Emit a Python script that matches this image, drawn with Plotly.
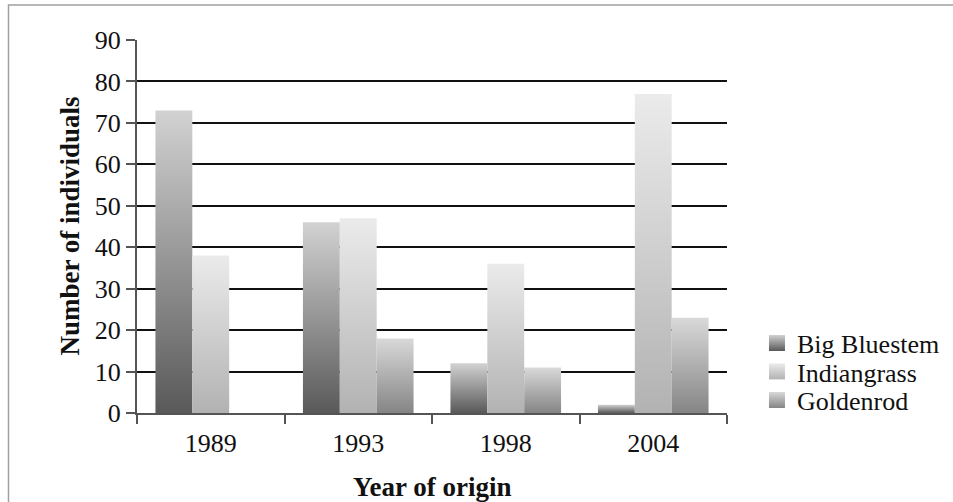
import plotly.graph_objects as go

# Survey counts by year of origin
years = ["1989", "1993", "1998", "2004"]
series_names = ["Big Bluestem", "Indiangrass", "Goldenrod"]
big_bluestem = [73, 46, 12, 2]
indiangrass = [38, 47, 36, 77]
goldenrod = [0, 18, 11, 23]

values = [big_bluestem, indiangrass, goldenrod]
# bottom-to-top grey gradients for each series
gradients = [
    [[0, "#595959"], [1, "#d2d2d2"]],
    [[0, "#b2b2b2"], [1, "#ebebeb"]],
    [[0, "#858585"], [1, "#d9d9d9"]],
]

FONT = "Liberation Serif, Times New Roman, serif"
GROUP = 0.75          # fraction of a category occupied by the bar group
n_series = len(values)
bar_w = GROUP / n_series
legend_ids = ["legend", "legend2", "legend3"]

fig = go.Figure()
for j, (name, vals, cs) in enumerate(zip(series_names, values, gradients)):
    for i, v in enumerate(vals):
        x0 = i - GROUP / 2 + j * bar_w
        x1 = x0 + bar_w
        fig.add_trace(go.Scatter(
            x=[x0, x1, x1, x0, x0],
            y=[0, 0, v, v, 0],
            mode="lines",
            line=dict(width=0, color=cs[0][1]),
            fill="toself",
            fillgradient=dict(type="vertical", colorscale=cs),
            name=name,
            showlegend=False,
            hoverinfo="skip",
        ))
    # legend swatch: square marker carrying the same gradient
    fig.add_trace(go.Scatter(
        x=[None], y=[None], mode="markers", name=name,
        marker=dict(symbol="square", size=16, color=cs[1][1],
                    gradient=dict(type="vertical", color=cs[0][1]),
                    line=dict(width=0)),
        legend=legend_ids[j], showlegend=True,
    ))

legend_style = dict(
    x=1.0508, xanchor="left", yanchor="middle",
    font=dict(family=FONT, size=26, color="#111"),
    itemwidth=30, bgcolor="rgba(0,0,0,0)", borderwidth=0,
)
# vertical centres of the three legend rows (paper units)
legend_rows = [(413 - 343) / 373, (413 - 371.5) / 373, (413 - 400) / 373]

fig.update_layout(
    width=953, height=502,
    margin=dict(l=137, r=226, t=40, b=89, autoexpand=False),
    paper_bgcolor="white", plot_bgcolor="white",
    font=dict(family=FONT, size=26, color="#111"),
    showlegend=True,
    legend=dict(y=legend_rows[0], **legend_style),
    legend2=dict(y=legend_rows[1], **legend_style),
    legend3=dict(y=legend_rows[2], **legend_style),
    xaxis=dict(
        range=[-0.5, 3.5],
        tickmode="array", tickvals=list(range(len(years))), ticktext=years,
        ticks="", showgrid=False, zeroline=False,
        showline=True, linecolor="#555", linewidth=2,
        tickfont=dict(family=FONT, size=26, color="#111"),
        ticklabelstandoff=6,
        minor=dict(tick0=-0.5, dtick=1, ticks="outside", ticklen=9,
                   tickwidth=2, tickcolor="#555", showgrid=False),
        fixedrange=True,
    ),
    yaxis=dict(
        range=[0, 90], dtick=10, tick0=0,
        ticks="outside", ticklen=9, tickwidth=2, tickcolor="#555",
        showline=True, linecolor="#555", linewidth=2,
        showgrid=True, gridcolor="#111", gridwidth=2,
        zeroline=False,
        tickfont=dict(family=FONT, size=26, color="#111"),
        fixedrange=True,
    ),
    annotations=[
        dict(text="Number of individuals", textangle=-90,
             xref="paper", yref="paper", x=-0.1152, y=0.5,
             xanchor="center", yanchor="middle", showarrow=False,
             font=dict(family=FONT, size=27, color="#111", weight="bold")),
        dict(text="Year of origin",
             xref="paper", yref="paper", x=0.5, y=-0.199,
             xanchor="center", yanchor="middle", showarrow=False,
             font=dict(family=FONT, size=27, color="#111", weight="bold")),
    ],
    shapes=[
        dict(type="rect", xref="paper", yref="paper",
             x0=-0.2178, y0=-2, x1=3, y1=1.0938,
             line=dict(color="#a0a0a0", width=1.5), layer="below"),
    ],
)

fig.write_html("out.html")
